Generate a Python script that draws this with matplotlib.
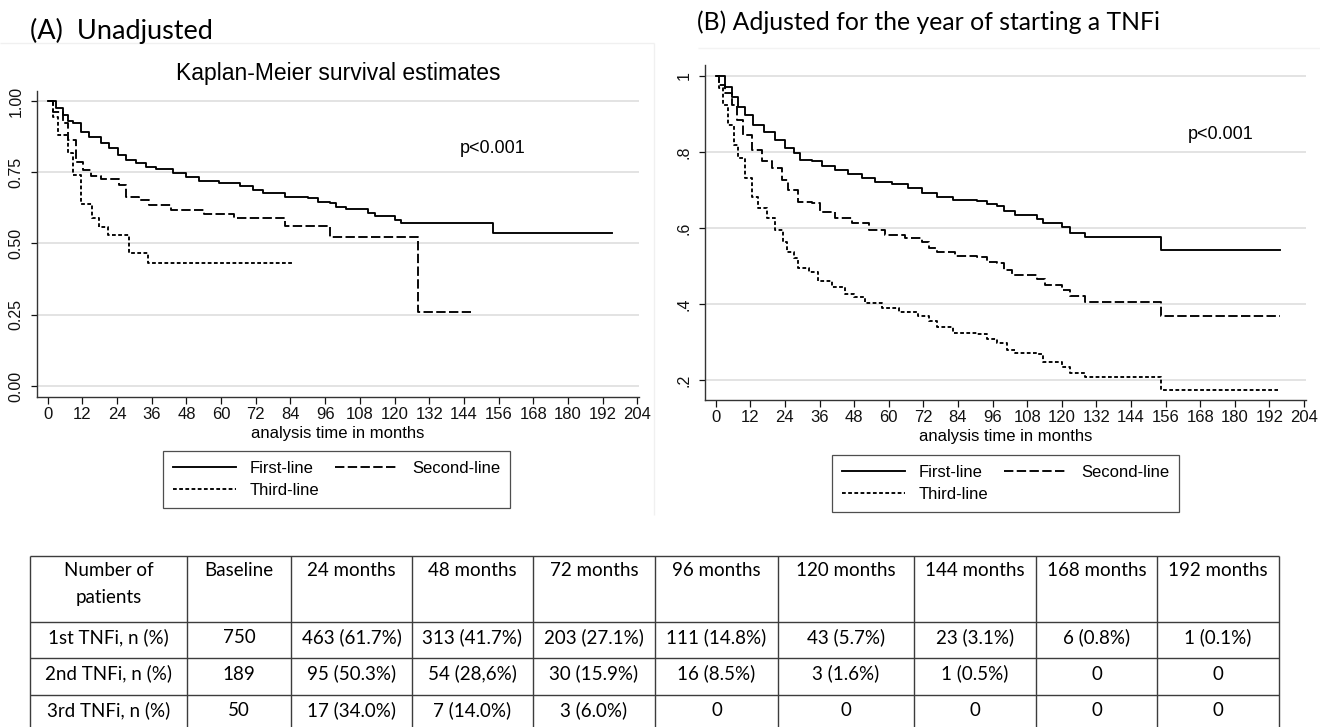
import numpy as np
import matplotlib
matplotlib.use("Agg")
import matplotlib.pyplot as plt

plt.rcParams["font.family"] = ["Liberation Sans", "DejaVu Sans"]

months = np.arange(0, 205, 12)

# (A) unadjusted Kaplan-Meier curves
a_first_t = [0, 2.9, 5.2, 6.9, 8.6, 11.5, 14.4, 18.5, 21.3, 24.2, 27.1, 30.6, 34.0, 37.5,
             43.3, 47.9, 52.5, 59.4, 66.4, 71.0, 74.4, 82.0, 90.0, 93.5, 97.5, 99.9,
             103.3, 110.8, 113.1, 120.0, 122.4, 154.1, 195.1]
a_first_s = [1.0, 0.974, 0.951, 0.928, 0.922, 0.892, 0.875, 0.854, 0.834, 0.811, 0.793,
             0.784, 0.770, 0.761, 0.749, 0.734, 0.720, 0.711, 0.702, 0.688, 0.676, 0.664,
             0.658, 0.647, 0.641, 0.627, 0.620, 0.606, 0.596, 0.582, 0.571, 0.536, 0.536]
a_second_t = [0, 1.7, 5.2, 6.9, 9.8, 12.1, 15.0, 18.5, 24.8, 27.1, 31.7, 35.2, 42.7, 54.2,
              64.6, 82.0, 97.5, 128.0, 146.6]
a_second_s = [1.0, 0.962, 0.922, 0.863, 0.787, 0.758, 0.737, 0.725, 0.705, 0.662, 0.653,
              0.635, 0.617, 0.603, 0.588, 0.561, 0.524, 0.261, 0.261]
a_third_t = [0, 1.7, 3.4, 6.9, 8.6, 11.6, 15.3, 17.9, 20.7, 28.3, 34.6, 84.8]
a_third_s = [1.0, 0.945, 0.88, 0.816, 0.74, 0.64, 0.588, 0.559, 0.53, 0.466, 0.433, 0.433]

# (B) adjusted curves
b_first_t = [0, 3.3, 5.6, 7.9, 10.2, 13.1, 16.6, 20.6, 24.1, 27.0, 29.3, 33.3, 36.8, 41.4,
             46.0, 50.7, 55.3, 61.1, 66.8, 71.5, 76.7, 82.4, 90.5, 94.0, 97.5, 99.8, 103.8,
             111.3, 113.6, 120.0, 122.9, 128.1, 154.4, 195.7]
b_first_s = [1.0, 0.972, 0.946, 0.919, 0.897, 0.871, 0.853, 0.832, 0.810, 0.797, 0.779,
             0.775, 0.763, 0.753, 0.741, 0.731, 0.720, 0.716, 0.706, 0.693, 0.682, 0.674,
             0.672, 0.663, 0.658, 0.646, 0.634, 0.623, 0.614, 0.602, 0.588, 0.576, 0.542, 0.542]
b_second_t = [0, 1.0, 3.3, 5.6, 7.3, 9.6, 12.5, 16.0, 19.5, 22.9, 25.2, 28.7, 33.3, 36.2,
              41.4, 47.2, 53.0, 58.8, 65.7, 71.5, 73.8, 76.7, 83.0, 90.5, 94.0, 97.5, 99.8,
              102.7, 111.3, 114.2, 120.0, 122.9, 128.1, 154.4, 195.7]
b_second_s = [1.0, 0.976, 0.954, 0.924, 0.884, 0.845, 0.805, 0.775, 0.757, 0.726, 0.700,
              0.669, 0.665, 0.643, 0.627, 0.612, 0.595, 0.582, 0.573, 0.562, 0.547, 0.538,
              0.525, 0.523, 0.511, 0.507, 0.489, 0.476, 0.465, 0.450, 0.437, 0.421, 0.406,
              0.368, 0.368]
b_third_t = [0, 1.0, 2.7, 4.4, 6.2, 7.9, 10.2, 12.5, 14.8, 17.7, 20.6, 23.5, 24.7, 27.0,
             28.7, 32.2, 35.6, 40.3, 44.9, 47.8, 51.8, 57.6, 63.4, 70.3, 73.8, 76.7, 82.4,
             90.5, 94.0, 97.5, 101.0, 103.8, 111.3, 113.6, 120.0, 122.9, 128.1, 154.4, 195.1]
b_third_s = [1.0, 0.968, 0.924, 0.871, 0.818, 0.783, 0.731, 0.682, 0.652, 0.626, 0.595,
             0.564, 0.538, 0.520, 0.494, 0.485, 0.460, 0.446, 0.426, 0.419, 0.402, 0.390,
             0.380, 0.369, 0.354, 0.340, 0.323, 0.321, 0.307, 0.297, 0.279, 0.272, 0.268,
             0.248, 0.235, 0.219, 0.207, 0.175, 0.175]

labels = ["First-line", "Second-line", "Third-line"]

a_yticks = [0, 0.25, 0.5, 0.75, 1.0]
a_yticklabels = ["0.00", "0.25", "0.50", "0.75", "1.00"]
b_yticks = [0.2, 0.4, 0.6, 0.8, 1.0]
b_yticklabels = [".2", ".4", ".6", ".8", "1"]

# table of patients at risk
tbl_header = ["Number of\npatients", "Baseline", "24 months", "48 months", "72 months",
              "96 months", "120 months", "144 months", "168 months", "192 months"]
tbl_rows = ["1st TNFi, n (%)", "2nd TNFi, n (%)", "3rd TNFi, n (%)"]
tbl_first = ["750", "463 (61.7%)", "313 (41.7%)", "203 (27.1%)", "111 (14.8%)",
             "43 (5.7%)", "23 (3.1%)", "6 (0.8%)", "1 (0.1%)"]
tbl_second = ["189", "95 (50.3%)", "54 (28,6%)", "30 (15.9%)", "16 (8.5%)",
              "3 (1.6%)", "1 (0.5%)", "0", "0"]
tbl_third = ["50", "17 (34.0%)", "7 (14.0%)", "3 (6.0%)", "0", "0", "0", "0", "0"]

W, H = 1320, 727
fig = plt.figure(figsize=(W / 100, H / 100), dpi=100)

# pixel-space layer for the panel titles and the table
bg = fig.add_axes([0, 0, 1, 1])
bg.set_xlim(0, W)
bg.set_ylim(H, 0)
bg.axis("off")


def px_axes(l, t, r, b):
    return fig.add_axes([l / W, 1 - b / H, (r - l) / W, (b - t) / H])


styles = ["-", (0, (5.0, 1.8)), (0, (2.0, 1.3))]


def km_panel(ax, curves, ylim, yticks, yticklabels, ptext, leg_xy):
    handles = []
    for (t, s), lab, ls in zip(curves, labels, styles):
        h, = ax.plot(t, s, drawstyle="steps-post", color="black", lw=1.35, ls=ls, label=lab)
        handles.append(h)
    ax.set_xlim(-3.7, 204.5)
    ax.set_ylim(*ylim)
    ax.set_xticks(months)
    ax.set_yticks(yticks)
    ax.set_yticklabels(yticklabels)
    ax.yaxis.grid(True, color="#e1e1e1", lw=1.3)
    ax.set_axisbelow(True)
    for sp in ["top", "right"]:
        ax.spines[sp].set_visible(False)
    for sp in ["left", "bottom"]:
        ax.spines[sp].set_color("#333333")
        ax.spines[sp].set_linewidth(1.0)
    ax.tick_params(axis="x", length=5, width=0.9, pad=2.5, labelsize=12, colors="#111111")
    ax.tick_params(axis="y", length=4.5, width=0.9, pad=5, labelsize=11.5, colors="#111111",
                   labelrotation=90)
    for lb in ax.get_yticklabels():
        lb.set_va("center")
    ax.set_xlabel("analysis time in months", fontsize=12, labelpad=2.5)
    ax.text(ptext[0], ptext[1], "p<0.001", fontsize=13, va="center", ha="left")
    leg = ax.legend([handles[0], handles[2], handles[1]], [labels[0], labels[2], labels[1]],
                    ncol=2, loc="upper left", bbox_to_anchor=(leg_xy[0] / W, 1 - leg_xy[1] / H),
                    bbox_transform=fig.transFigure, borderaxespad=0, frameon=True,
                    fancybox=False, edgecolor="#222222", fontsize=12, handlelength=3.8,
                    handletextpad=0.8, columnspacing=0.95, labelspacing=0.42, borderpad=0.6)
    leg.get_frame().set_linewidth(0.9)


ax_a = px_axes(37, 91, 638.8, 397)
km_panel(ax_a, [(a_first_t, a_first_s), (a_second_t, a_second_s), (a_third_t, a_third_s)],
         (-0.0386, 1.035), a_yticks, a_yticklabels, (142.6, 0.835), (163, 451))
ax_a.set_title("Kaplan-Meier survival estimates", fontsize=16.5, pad=8)

ax_b = px_axes(705, 65, 1305.5, 400)
km_panel(ax_b, [(b_first_t, b_first_s), (b_second_t, b_second_s), (b_third_t, b_third_s)],
         (0.1474, 1.0289), b_yticks, b_yticklabels, (163.8, 0.846), (832, 455))

# panel headings
bg.text(30, 31, "(A)  Unadjusted", fontsize=19.5, family="Lato", va="center", ha="left")
bg.text(697, 22, "(B) Adjusted for the year of starting a TNFi", fontsize=17.8, family="Lato",
        va="center", ha="left")

# faint frame remnants around the panels
bg.hlines(43, 0, 654, color="#f0f0f0", lw=1)
bg.vlines(654, 43, 515, color="#f0f0f0", lw=1)
bg.hlines(48, 698, W, color="#f3f3f3", lw=1)

# table
col_edges = [30, 187, 291, 412, 533, 655, 778, 914, 1036, 1157, 1279]
row_edges = [556, 622, 658, 695, 731]
bg.hlines(row_edges, col_edges[0], col_edges[-1], color="#3c3c3c", lw=1)
bg.vlines(col_edges, row_edges[0], row_edges[-1], color="#3c3c3c", lw=1)
centers = [(a + b) / 2 for a, b in zip(col_edges[:-1], col_edges[1:])]
for xc, txt in zip(centers, tbl_header):
    bg.text(xc, 562, txt, fontsize=13.5, family="Lato", ha="center", va="top", linespacing=1.75)
for r, (name, vals) in enumerate(zip(tbl_rows, [tbl_first, tbl_second, tbl_third])):
    yb = (row_edges[r + 1] + row_edges[r + 2]) / 2 + 3
    for xc, txt in zip(centers, [name] + vals):
        bg.text(xc, yb, txt, fontsize=13.5, family="Lato", ha="center", va="baseline")

fig.savefig("out.png", dpi=100)
